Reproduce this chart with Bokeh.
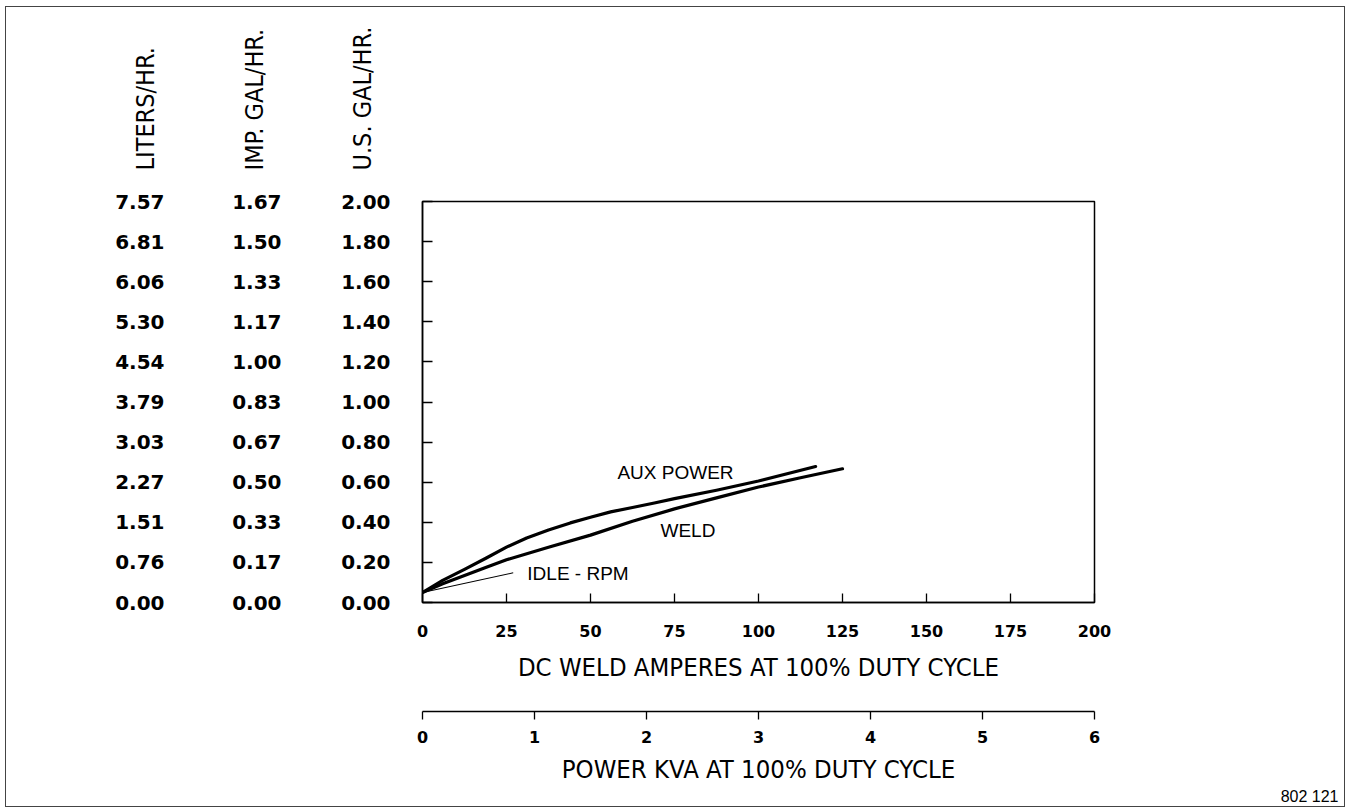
from bokeh.plotting import figure
from bokeh.layouts import column, row
from bokeh.models import Range1d, LinearAxis, FixedTicker, Label
from bokeh.embed import file_html
from bokeh.resources import INLINE

# ---------------- data ----------------
us_gal_labels = ["0.00", "0.20", "0.40", "0.60", "0.80", "1.00", "1.20", "1.40", "1.60", "1.80", "2.00"]
imp_gal_labels = ["0.00", "0.17", "0.33", "0.50", "0.67", "0.83", "1.00", "1.17", "1.33", "1.50", "1.67"]
liters_labels = ["0.00", "0.76", "1.51", "2.27", "3.03", "3.79", "4.54", "5.30", "6.06", "6.81", "7.57"]
column_titles = ["LITERS/HR.", "IMP. GAL/HR.", "U.S. GAL/HR."]
amps_ticks = [0, 25, 50, 75, 100, 125, 150, 175, 200]
kva_ticks = [0, 1, 2, 3, 4, 5, 6]

aux_amps = [0, 6, 12.5, 19, 25, 31, 37.5, 44, 50, 56, 62.5, 69, 75, 87.5, 100, 117]
aux_gal = [0.05, 0.11, 0.165, 0.222, 0.276, 0.322, 0.362, 0.397, 0.425, 0.452, 0.474, 0.496, 0.518, 0.56, 0.606, 0.678]
weld_amps = [0, 6, 12.5, 19, 25, 37.5, 50, 62.5, 75, 87.5, 100, 112.5, 125]
weld_gal = [0.05, 0.093, 0.135, 0.176, 0.213, 0.276, 0.336, 0.405, 0.467, 0.522, 0.576, 0.622, 0.667]
idle_amps = [0, 27]
idle_gal = [0.05, 0.148]

curve_labels = ["AUX POWER", "WELD", "IDLE - RPM"]
x_title = "DC WELD AMPERES AT 100% DUTY CYCLE"
kva_title = "POWER KVA AT 100% DUTY CYCLE"
drawing_no = "802 121"

COND = "'DejaVu Sans Condensed', 'Liberation Sans'"
REG = "Liberation Sans"
BOLD_NUM = "DejaVu Sans"

W = 1338
MAIN_W = 1110
MAIN_H = 624


def blank_fig(w, h):
    f = figure(width=w, height=h, x_range=Range1d(0, 1), y_range=Range1d(0, 1),
               x_axis_type=None, y_axis_type=None, toolbar_location=None,
               output_backend="svg", min_border=0, frame_align=False)
    f.title.visible = False
    f.outline_line_color = None
    f.background_fill_color = "white"
    f.border_fill_color = "white"
    return f


# ---------------- header strip (rotated column titles) ----------------
top = blank_fig(W, 175)
for xs, t in zip([139, 248, 356], column_titles):
    top.add_layout(Label(x=xs, y=12, x_units="screen", y_units="screen", text=t, angle=90,
                         angle_units="deg", text_align="left", text_baseline="middle",
                         text_font=COND, text_font_size="25px", text_color="black"))

# ---------------- main chart ----------------
p = figure(width=MAIN_W, height=MAIN_H,
           x_range=Range1d(0, 200), y_range=Range1d(0, 2),
           x_axis_type=None, y_axis_type=None,
           toolbar_location=None, output_backend="svg",
           min_border_left=416, min_border_right=MAIN_W - 416 - 672,
           min_border_top=19, min_border_bottom=MAIN_H - 19 - 401, frame_align=False)
p.title.visible = False
p.extra_x_ranges = {"kva": Range1d(0, 6)}
p.outline_line_color = "black"
p.outline_line_width = 1.5
p.background_fill_color = "white"
p.border_fill_color = "white"

us_ticks = [float(s) for s in us_gal_labels]


def make_yaxis(labels, standoff, inner):
    ax = LinearAxis(ticker=FixedTicker(ticks=us_ticks),
                    major_label_overrides={t: l for t, l in zip(us_ticks, labels)})
    ax.major_label_standoff = standoff
    ax.major_tick_out = 0
    ax.major_tick_in = 10 if inner else 0
    ax.minor_tick_line_color = None
    ax.axis_line_color = "black" if inner else None
    ax.axis_line_width = 1.5
    ax.major_tick_line_color = "black" if inner else None
    ax.major_tick_line_width = 1.3
    ax.major_label_text_font = BOLD_NUM
    ax.major_label_text_font_style = "bold"
    ax.major_label_text_font_size = "20px"
    ax.major_label_text_color = "black"
    return ax


p.add_layout(make_yaxis(us_gal_labels, 32, True), "left")
p.add_layout(make_yaxis(imp_gal_labels, 57, False), "left")
p.add_layout(make_yaxis(liters_labels, 65, False), "left")

# amps axis (ticks inside frame)
ax_a = LinearAxis(ticker=FixedTicker(ticks=amps_ticks), axis_label=x_title)
ax_a.major_tick_in = 9
ax_a.major_tick_out = 0
ax_a.minor_tick_line_color = None
ax_a.axis_line_width = 1.5
ax_a.major_tick_line_width = 1.3
ax_a.major_label_standoff = 22
ax_a.major_label_text_font = BOLD_NUM
ax_a.major_label_text_font_style = "bold"
ax_a.major_label_text_font_size = "16px"
ax_a.major_label_text_color = "black"
ax_a.axis_label_standoff = 12
ax_a.axis_label_text_font = COND
ax_a.axis_label_text_font_style = "normal"
ax_a.axis_label_text_font_size = "25.5px"
ax_a.axis_label_text_color = "black"
p.add_layout(ax_a, "below")

# spacer band between the two horizontal scales: a single white tick in empty space
sp = LinearAxis(ticker=FixedTicker(ticks=[amps_ticks[-1]]))
sp.axis_line_color = None
sp.minor_tick_line_color = None
sp.major_tick_line_color = "white"
sp.major_tick_in = 0
sp.major_tick_out = 27
sp.major_label_standoff = 0
sp.major_label_text_color = None
p.add_layout(sp, "below")

# KVA axis
ax_k = LinearAxis(x_range_name="kva", ticker=FixedTicker(ticks=kva_ticks), axis_label=kva_title)
ax_k.major_tick_in = 0
ax_k.major_tick_out = 8
ax_k.minor_tick_line_color = None
ax_k.axis_line_width = 1.5
ax_k.major_tick_line_width = 1.3
ax_k.major_label_standoff = 11
ax_k.major_label_text_font = BOLD_NUM
ax_k.major_label_text_font_style = "bold"
ax_k.major_label_text_font_size = "16px"
ax_k.major_label_text_color = "black"
ax_k.axis_label_standoff = 8
ax_k.axis_label_text_font = COND
ax_k.axis_label_text_font_style = "normal"
ax_k.axis_label_text_font_size = "25.5px"
ax_k.axis_label_text_color = "black"
p.add_layout(ax_k, "below")

# curves
p.line(aux_amps, aux_gal, line_color="black", line_width=3.2, line_join="round", line_cap="round")
p.line(weld_amps, weld_gal, line_color="black", line_width=3.2, line_join="round", line_cap="round")
p.line(idle_amps, idle_gal, line_color="black", line_width=1.1)

lab_kw = dict(text_font=REG, text_font_size="19px", text_color="black")
p.add_layout(Label(x=75.3, y=0.648, text=curve_labels[0], text_align="center", text_baseline="middle", **lab_kw))
p.add_layout(Label(x=79, y=0.357, text=curve_labels[1], text_align="center", text_baseline="middle", **lab_kw))
p.add_layout(Label(x=31.2, y=0.147, text=curve_labels[2], text_align="left", text_baseline="middle", **lab_kw))

# ---------------- side strip at the right holding the drawing number ----------------
side = blank_fig(W - MAIN_W, MAIN_H)
side.add_layout(Label(x=W - MAIN_W - 6, y=10, x_units="screen", y_units="screen", text=drawing_no,
                      text_align="right", text_baseline="middle",
                      text_font=REG, text_font_size="16px", text_color="black"))

layout = column(top, row(p, side, spacing=0), spacing=0)
layout.styles = {"border": "1px solid #444444", "margin-left": "5px", "margin-top": "6px"}

open("out.html", "w").write(file_html(layout, INLINE))
